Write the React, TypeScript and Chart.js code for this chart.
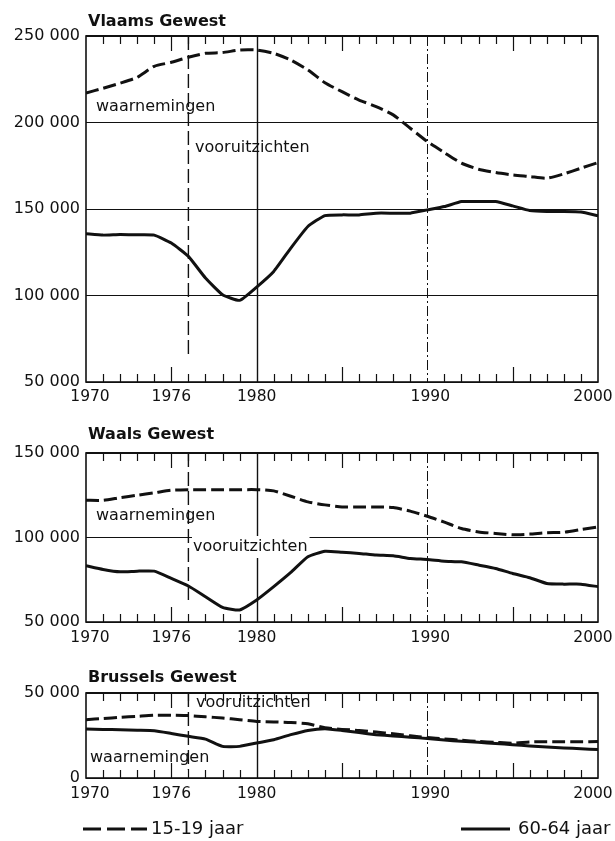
import React, { useEffect, useRef } from "react";
import { Chart, registerables } from "chart.js";

Chart.register(...registerables);

// ---------- data ----------
const YEARS = [
  1970, 1971, 1972, 1973, 1974, 1975, 1976, 1977, 1978, 1979, 1980,
  1981, 1982, 1983, 1984, 1985, 1986, 1987, 1988, 1989, 1990,
  1991, 1992, 1993, 1994, 1995, 1996, 1997, 1998, 1999, 2000,
];

const SERIES_NAMES = ["15-19 jaar", "60-64 jaar"];
const PANEL_TITLES = ["Vlaams Gewest", "Waals Gewest", "Brussels Gewest"];
const OBS_LABEL = "waarnemingen";
const PROJ_LABEL = "vooruitzichten";
const PROJECTION_START = 1976;
const REF_YEARS = [1980, 1990];
const X_TICK_LABELS = [1970, 1976, 1980, 1990, 2000];

const VLAAMS_15_19 = [
  217000, 219800, 222700, 226100, 232500, 234800, 237700, 240000, 240400, 241900, 241900,
  240000, 236100, 230400, 223000, 217800, 213000, 209200, 204400, 196700, 189000,
  182600, 176500, 173000, 171100, 169700, 168800, 167800, 170300, 173600, 176800,
];
const VLAAMS_60_64 = [
  135700, 134900, 135300, 135100, 134900, 130300, 122600, 110100, 100500, 97200, 104900,
  113900, 127400, 139900, 146200, 146600, 146600, 147600, 147600, 147600, 149500,
  151400, 154300, 154300, 154300, 151800, 149100, 148500, 148500, 148200, 146100,
];
const WAALS_15_19 = [
  122000, 122000, 123600, 125000, 126400, 128000, 128300, 128300, 128300, 128300, 128300,
  127600, 124400, 121100, 119300, 118100, 118100, 118100, 117700, 115600, 112600,
  109100, 105300, 103300, 102400, 101600, 102000, 102800, 103100, 104700, 106300,
];
const WAALS_60_64 = [
  83300, 81100, 79700, 80100, 80100, 75800, 71300, 65000, 58700, 57100, 63000,
  70900, 79300, 88600, 91900, 91300, 90600, 89600, 89200, 87600, 87000,
  86000, 85600, 83700, 81700, 78700, 76200, 72800, 72400, 72400, 70900,
];
const BRUSSELS_15_19 = [
  34300, 35000, 35700, 36300, 36900, 36900, 36700, 36000, 35300, 34300, 33300,
  33000, 32700, 31900, 29500, 28600, 28000, 27000, 26000, 24800, 23800,
  23000, 22200, 21500, 21000, 20500, 21200, 21300, 21300, 21300, 21400,
];
const BRUSSELS_60_64 = [
  28800, 28600, 28400, 28100, 27800, 26200, 24500, 22900, 18600, 18600, 20600,
  22500, 25500, 28000, 29000, 28000, 26700, 25500, 24700, 24000, 23200,
  22300, 21600, 21000, 20300, 19600, 18800, 18200, 17700, 17200, 16700,
];

// ---------- style ----------
const FONT = "'DejaVu Sans', 'Liberation Sans', sans-serif";
const INK = "#111111";
const DASH = [13, 5];
const LEGEND_DASH = [18, 6];

const fmt = (v: number) =>
  v === 0 ? "0" : String(v).replace(/\B(?=(\d{3})+(?!\d))/g, " ");

type Label = { text: string; x: number; y: number; bg?: boolean };

type PanelProps = {
  top: number;
  height: number;
  plotTop: number;
  plotBottom: number;
  title: string;
  titleY: number;
  yMin: number;
  yMax: number;
  s1: number[];
  s2: number[];
  labels: Label[];
  projGap: number;
  xLabelY: number;
  legendY?: number;
};

function Panel(p: PanelProps) {
  const ref = useRef<HTMLCanvasElement | null>(null);

  useEffect(() => {
    const canvas = ref.current;
    if (!canvas) return;

    const line = (ctx: CanvasRenderingContext2D, x1: number, y1: number, x2: number, y2: number) => {
      ctx.beginPath();
      ctx.moveTo(x1, y1);
      ctx.lineTo(x2, y2);
      ctx.stroke();
    };

    const decor = {
      id: "decor",
      beforeDatasetsDraw(chart: any) {
        const { ctx, chartArea: a, scales } = chart;
        const x = scales.x;
        ctx.save();
        ctx.strokeStyle = INK;
        // projection boundary
        const px = x.getPixelForValue(PROJECTION_START);
        ctx.lineWidth = 1.4;
        ctx.setLineDash([14, 5]);
        line(ctx, px, a.top, px, a.bottom - p.projGap);
        // reference year lines
        REF_YEARS.forEach((yr, i) => {
          const rx = Math.round(x.getPixelForValue(yr)) + 0.5;
          ctx.lineWidth = i === 0 ? 1.4 : 1;
          ctx.setLineDash(i === 0 ? [] : [10, 3, 2, 3]);
          line(ctx, rx, a.top, rx, a.bottom);
        });
        ctx.setLineDash([]);
        // annotation texts
        ctx.font = `16px ${FONT}`;
        ctx.textBaseline = "middle";
        ctx.textAlign = "left";
        p.labels.forEach((l) => {
          const w = ctx.measureText(l.text).width;
          if (l.bg) {
            ctx.fillStyle = "#fff";
            ctx.fillRect(l.x - 1, l.y - 11, w + 3, 22);
          }
          ctx.fillStyle = INK;
          ctx.fillText(l.text, l.x, l.y);
        });
        ctx.restore();
      },
      afterDraw(chart: any) {
        const { ctx, chartArea: a, scales } = chart;
        const x = scales.x;
        ctx.save();
        ctx.strokeStyle = INK;
        ctx.fillStyle = INK;
        // minor / major ticks, inward at top and bottom
        ctx.lineWidth = 1.2;
        YEARS.forEach((yr) => {
          if (yr === YEARS[0] || yr === YEARS[YEARS.length - 1]) return;
          if (REF_YEARS.includes(yr)) return;
          const tx = Math.round(x.getPixelForValue(yr)) + 0.5;
          const len = yr % 5 === 0 ? 15 : 8;
          line(ctx, tx, a.top, tx, a.top + len);
          line(ctx, tx, a.bottom, tx, a.bottom - len);
        });
        // frame
        ctx.lineWidth = 1.6;
        ctx.strokeRect(a.left, a.top, a.right - a.left, a.bottom - a.top);
        ctx.lineWidth = 2.2;
        line(ctx, a.left, a.top, a.right, a.top);
        // x labels
        ctx.font = `15.5px ${FONT}`;
        ctx.textAlign = "center";
        ctx.textBaseline = "middle";
        X_TICK_LABELS.forEach((yr) => {
          let lx = x.getPixelForValue(yr);
          if (yr === PROJECTION_START) lx = x.getPixelForValue(yr - 1);
          if (yr === YEARS[0]) lx += 4;
          if (yr === YEARS[YEARS.length - 1]) lx -= 5;
          if (yr === 1990) lx += 3;
          ctx.fillText(String(yr), lx, p.xLabelY);
        });
        // title
        ctx.font = `bold 16px ${FONT}`;
        ctx.textAlign = "left";
        ctx.fillText(p.title, a.left + 2, p.titleY);
        // legend
        if (p.legendY !== undefined) {
          const ds = chart.data.datasets;
          ctx.font = `18px ${FONT}`;
          ctx.lineWidth = 3;
          ctx.setLineDash(LEGEND_DASH);
          line(ctx, a.left - 3, p.legendY, a.left + 61, p.legendY);
          ctx.setLineDash([]);
          ctx.fillText(ds[0].label, a.left + 65, p.legendY);
          line(ctx, 461, p.legendY, 510, p.legendY);
          ctx.fillText(ds[1].label, 518, p.legendY);
        }
        ctx.restore();
      },
    };

    const chart = new Chart(canvas, {
      type: "line",
      data: {
        datasets: [
          {
            label: SERIES_NAMES[0],
            data: YEARS.map((yr, i) => ({ x: yr, y: p.s1[i] })),
            borderColor: INK,
            borderWidth: 3,
            borderDash: DASH,
            pointRadius: 0,
            tension: 0.2,
            fill: false,
          },
          {
            label: SERIES_NAMES[1],
            data: YEARS.map((yr, i) => ({ x: yr, y: p.s2[i] })),
            borderColor: INK,
            borderWidth: 3,
            pointRadius: 0,
            tension: 0.15,
            fill: false,
          },
        ],
      },
      options: {
        responsive: false,
        animation: false,
        events: [],
        layout: { padding: { top: p.plotTop, right: 17, left: 0, bottom: 0 } },
        plugins: {
          legend: { display: false },
          tooltip: { enabled: false },
          title: { display: false },
        },
        scales: {
          x: {
            type: "linear",
            min: YEARS[0],
            max: YEARS[YEARS.length - 1],
            ticks: { display: false },
            grid: { display: false },
            border: { display: false },
            afterFit: (s: any) => {
              s.height = p.height - p.plotBottom;
            },
          },
          y: {
            min: p.yMin,
            max: p.yMax,
            ticks: {
              stepSize: 50000,
              color: INK,
              padding: 6,
              font: { family: FONT, size: 16 },
              callback: (v: any) => fmt(Number(v)),
            },
            grid: { color: INK, lineWidth: 1, drawTicks: false },
            border: { display: false },
            afterFit: (s: any) => {
              s.width = 86;
            },
          },
        },
      } as any,
      plugins: [decor],
    });

    return () => chart.destroy();
  }, []);

  return (
    <canvas
      ref={ref}
      width={615}
      height={p.height}
      style={{ position: "absolute", left: 0, top: p.top, width: 615, height: p.height }}
    />
  );
}

export default function App() {
  return (
    <div
      style={{
        position: "absolute",
        left: 0,
        top: 0,
        width: 615,
        height: 841,
        background: "#fff",
        overflow: "hidden",
      }}
    >
      <Panel
        top={0}
        height={410}
        plotTop={36}
        plotBottom={382}
        title={PANEL_TITLES[0]}
        titleY={22}
        yMin={50000}
        yMax={250000}
        s1={VLAAMS_15_19}
        s2={VLAAMS_60_64}
        labels={[
          { text: OBS_LABEL, x: 96, y: 107 },
          { text: PROJ_LABEL, x: 195, y: 148 },
        ]}
        projGap={24}
        xLabelY={397}
      />
      <Panel
        top={410}
        height={250}
        plotTop={43}
        plotBottom={212}
        title={PANEL_TITLES[1]}
        titleY={25}
        yMin={50000}
        yMax={150000}
        s1={WAALS_15_19}
        s2={WAALS_60_64}
        labels={[
          { text: OBS_LABEL, x: 96, y: 106 },
          { text: PROJ_LABEL, x: 193, y: 137, bg: true },
        ]}
        projGap={20}
        xLabelY={228}
      />
      <Panel
        top={660}
        height={181}
        plotTop={33}
        plotBottom={118}
        title={PANEL_TITLES[2]}
        titleY={18}
        yMin={0}
        yMax={50000}
        s1={BRUSSELS_15_19}
        s2={BRUSSELS_60_64}
        labels={[
          { text: PROJ_LABEL, x: 196, y: 43 },
          { text: OBS_LABEL, x: 90, y: 98 },
        ]}
        projGap={8}
        xLabelY={134}
        legendY={169}
      />
    </div>
  );
}
